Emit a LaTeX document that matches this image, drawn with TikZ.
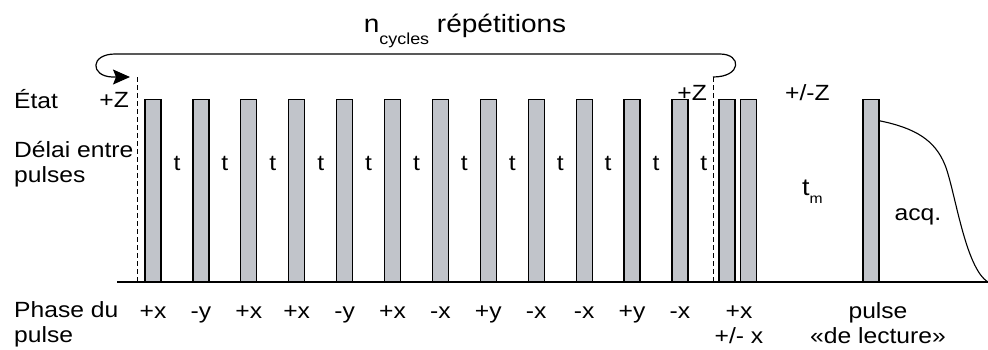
\documentclass[tikz,border=0pt]{standalone}
\usepackage{fontspec}
\setmainfont{Liberation Sans}[FakeStretch=1.12]
\usetikzlibrary{arrows.meta,positioning}
\definecolor{pulsegray}{RGB}{193,196,202}
\newcommand{\lowsub}[3]{\raisebox{-#1}{\fontsize{#2}{#2}\selectfont #3}}

\begin{document}
\begin{tikzpicture}[
    x=1pt, y=-1pt,
    pulse/.style={draw, line width=1.2pt, fill=pulsegray, minimum width=16pt, minimum height=182pt, inner sep=0pt, anchor=south},
    lbl/.style={inner sep=0pt, font=\fontsize{22}{24.5}\selectfont},
    sidelbl/.style={lbl, anchor=base west, align=left},
    dline/.style={line width=1pt, dash pattern=on 5pt off 3pt},
    arr/.style={-{Stealth[length=17pt, width=15pt, inset=3pt]}, line width=1.2pt}
]
\useasboundingbox (0,0) rectangle (988,349);

% time axis
\coordinate (axl) at (117,282);
\coordinate (axr) at (988,282);
\draw[line width=1.3pt] (axl) -- (axr);

% cycle pulses, phases and delays
\foreach \ph [count=\i] in {+x,-y,+x,+x,-y,+x,-x,+y,-x,-x,+y,-x} {
  \node[pulse] (p\i) at ({153+47.9*(\i-1)},282) {};
  \node[lbl, anchor=base] (ph\i) at ({153+47.9*(\i-1)},318) {\ph};
  \node[lbl, anchor=base] (t\i) at ({177+47.9*(\i-1)},170) {t};
}
\node[pulse] (q1) at (727,282) {};
\node[pulse] (q2) at (748.5,282) {};
\node[pulse] (read) at (871,282) {};

% cycle limits and loop
\coordinate (dl) at (137.5,77);
\coordinate (dr) at (713,77);
\coordinate (loopin) at (130,77);
\draw[dline] (dl) -- (dl |- axl);
\draw[dline] (dr) -- (dr |- axl);
\draw[arr] (dr) .. controls (742,77) and (742,54) .. (720,54) -- (115,54)
    .. controls (90,54) and (90,76) .. (112,77) -- (loopin);

% acquisition
\draw[line width=1.1pt] ([yshift=-22pt]read.north east) .. controls (915,128) and (935,140) .. (945,165)
    .. controls (955,190) and (965,268) .. (axr);

% labels
\node[lbl, anchor=base, font=\fontsize{25}{30}\selectfont] (ncyc) at (465,32) {n\lowsub{12pt}{16}{cycles} répétitions};
\node[sidelbl] (etat) at (14,108) {État};
\node[lbl, anchor=base east] (zl) at (129,107) {+Z};
\node[lbl, anchor=base east] (zr) at (707,100) {+Z};
\node[lbl, anchor=base west] (zpm) at (785,100) {+/-Z};
\node[sidelbl] (delai) at (14,182) {Délai entre\\pulses};
\node[sidelbl] (phase) at (14,342) {Phase du\\pulse};
\node[lbl, anchor=base, align=center] (ph13) at (739,343) {+x\\+/- x};
\node[lbl, anchor=base, align=center] (lect) at (878,343) {pulse\\«de lecture»};
\node[lbl, anchor=base west, font=\fontsize{24}{26}\selectfont] (tm) at (802,195) {t\lowsub{8pt}{14}{m}};
\node[lbl, anchor=base] (acq) at (918,220) {acq.};
\end{tikzpicture}
\end{document}
